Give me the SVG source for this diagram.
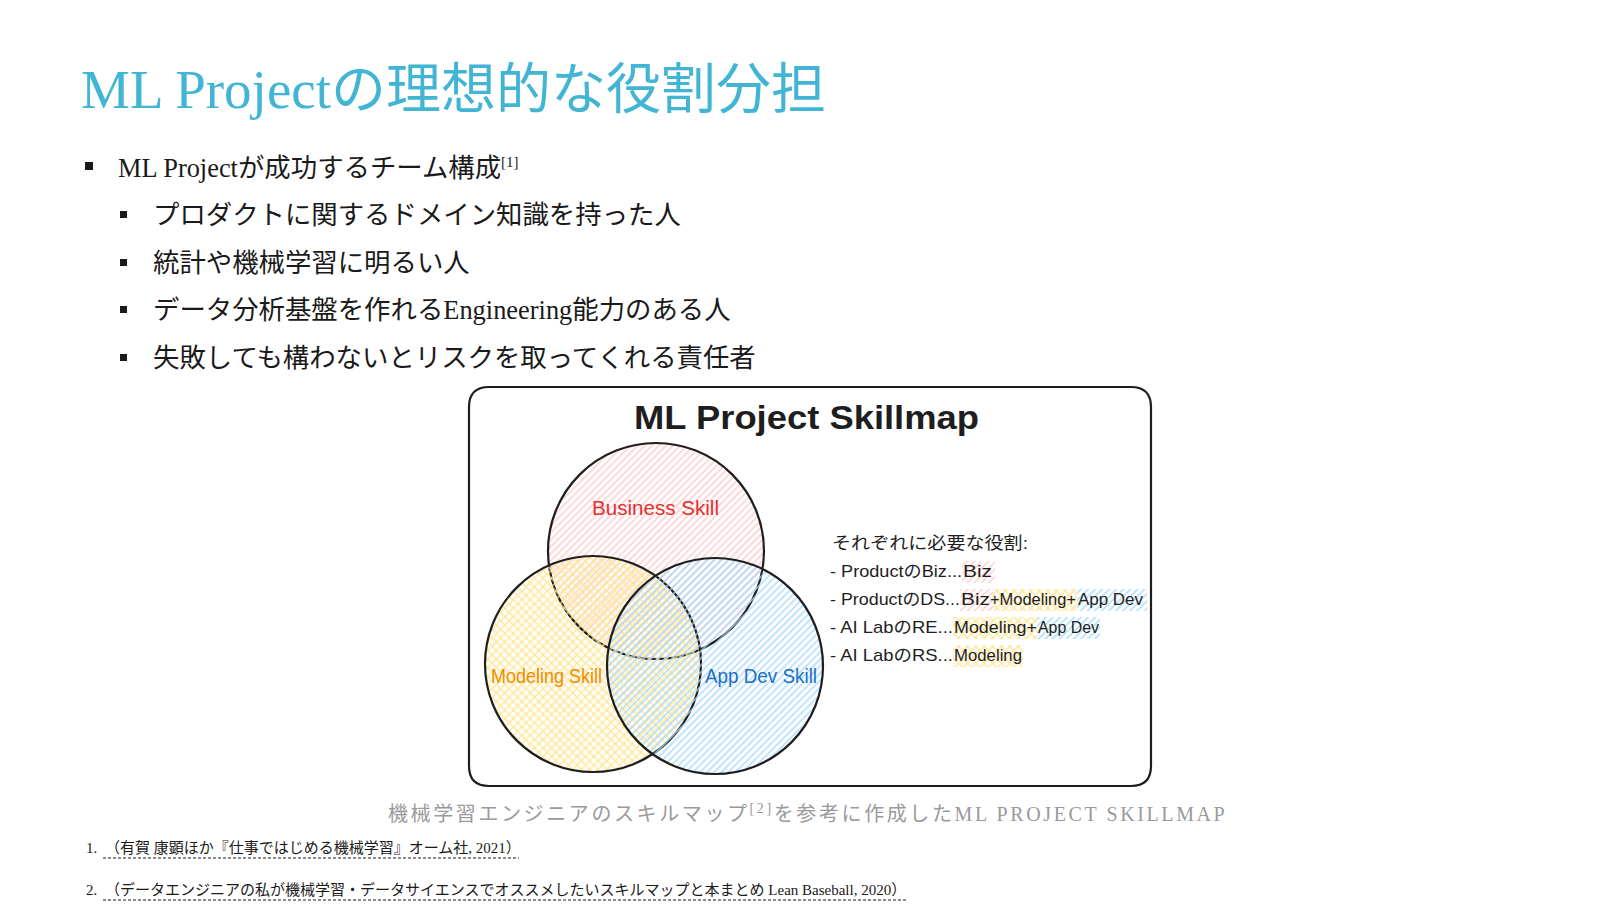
<svg xmlns="http://www.w3.org/2000/svg" width="1620" height="912" viewBox="0 0 1620 912">
<style>
.title{font-family:"Liberation Serif","Noto Sans CJK JP",serif;font-size:55px;fill:#42b4d4}
.body{font-family:"Liberation Serif","Noto Sans CJK JP",serif;font-size:26.4px;fill:#1a1a1a}
.sup{font-size:15px}
.hand{font-family:"Liberation Sans","Noto Sans CJK JP",sans-serif;fill:#1e1e1e}
.lbl{font-family:"Liberation Sans","Noto Sans CJK JP",sans-serif;font-size:20px}
.role{font-size:17px}
.cap{font-family:"Liberation Serif","Noto Sans CJK JP",serif;font-size:20px;fill:#9a9a9a;letter-spacing:2.6px}
.fn{font-family:"Liberation Serif","Noto Sans CJK JP",serif;font-size:15px;fill:#1a1a1a}
.ul{stroke:#1a1a1a;stroke-width:1;stroke-dasharray:3 2;fill:none}
.sk{stroke:#1e1e1e;stroke-width:2.2;fill:none}
</style>
<defs>
<pattern id="hR" patternUnits="userSpaceOnUse" width="5" height="10" patternTransform="rotate(45)">
<line x1="1" y1="0" x2="1" y2="10" stroke="#ffc9c9" stroke-width="1.4"/>
</pattern>
<pattern id="hY" patternUnits="userSpaceOnUse" width="6" height="6" patternTransform="rotate(45)">
<line x1="1" y1="0" x2="1" y2="6" stroke="#ffe58f" stroke-width="1.3"/>
<line x1="0" y1="1" x2="6" y2="1" stroke="#ffe58f" stroke-width="1.3"/>
</pattern>
<pattern id="hB" patternUnits="userSpaceOnUse" width="5" height="10" patternTransform="rotate(45)">
<line x1="1" y1="0" x2="1" y2="10" stroke="#a5d8ff" stroke-width="1.4"/>
</pattern>
</defs>
<rect width="1620" height="912" fill="#ffffff"/>

<g id="title">
<text class="title" x="81" y="108">ML Projectの理想的な役割分担</text>
</g>

<g id="bullets">
<rect x="85" y="162" width="8" height="8" fill="#1a1a1a"/>
<text class="body" x="118" y="177">ML Projectが成功するチーム構成<tspan class="sup" dy="-10">[1]</tspan></text>
<rect x="120" y="211" width="7" height="7" fill="#1a1a1a"/>
<text class="body" x="153" y="224">プロダクトに関するドメイン知識を持った人</text>
<rect x="120" y="259" width="7" height="7" fill="#1a1a1a"/>
<text class="body" x="153" y="272">統計や機械学習に明るい人</text>
<rect x="120" y="306" width="7" height="7" fill="#1a1a1a"/>
<text class="body" x="153" y="319">データ分析基盤を作れるEngineering能力のある人</text>
<rect x="120" y="354" width="7" height="7" fill="#1a1a1a"/>
<text class="body" x="153" y="367">失敗しても構わないとリスクを取ってくれる責任者</text>
</g>

<g id="figure-frame">
<path class="sk" d="M489 387 L1131 387 Q1151 387 1151 407 L1151 766 Q1151 786 1131 786 L489 786 Q469 786 469 766 L469 407 Q469 387 489 387 Z"/>
<text class="hand" x="634" y="429" font-size="34" font-weight="bold" textLength="345" lengthAdjust="spacingAndGlyphs">ML Project Skillmap</text>
</g>

<g id="business-skill">
<ellipse cx="656" cy="551" rx="108" ry="108" fill="url(#hR)"/>
<ellipse class="sk" cx="656" cy="551" rx="108" ry="108"/>
<text class="lbl" x="592" y="515" fill="#e03131" textLength="127" lengthAdjust="spacingAndGlyphs">Business Skill</text>
</g>

<g id="modeling-skill">
<ellipse cx="593" cy="664" rx="108" ry="108" fill="url(#hY)"/>
<ellipse class="sk" cx="593" cy="664" rx="108" ry="108"/>
<text class="lbl" x="491" y="683" fill="#f08c00" textLength="111" lengthAdjust="spacingAndGlyphs">Modeling Skill</text>
</g>

<g id="appdev-skill">
<ellipse cx="715" cy="666" rx="108" ry="108" fill="url(#hB)"/>
<ellipse class="sk" cx="715" cy="666" rx="108" ry="108"/>
<text class="lbl" x="705" y="683" fill="#1971c2" textLength="112" lengthAdjust="spacingAndGlyphs">App Dev Skill</text>
</g>

<g id="roles">
<rect x="962" y="561" width="33" height="22" fill="url(#hR)"/>
<rect x="960" y="589" width="33" height="22" fill="url(#hR)"/>
<rect x="993" y="589" width="84" height="22" fill="url(#hY)"/>
<rect x="1077" y="589" width="70" height="22" fill="url(#hB)"/>
<rect x="953" y="617" width="84" height="22" fill="url(#hY)"/>
<rect x="1037" y="617" width="63" height="22" fill="url(#hB)"/>
<rect x="953" y="645" width="70" height="22" fill="url(#hY)"/>
<text class="hand role" x="832" y="549" textLength="196" lengthAdjust="spacingAndGlyphs">それぞれに必要な役割:</text>
<text class="hand role" y="577"><tspan x="830" textLength="132" lengthAdjust="spacingAndGlyphs">- ProductのBiz...</tspan><tspan x="963" textLength="29" lengthAdjust="spacingAndGlyphs">Biz</tspan></text>
<text class="hand role" y="605"><tspan x="830" textLength="130" lengthAdjust="spacingAndGlyphs">- ProductのDS...</tspan><tspan x="961" textLength="29" lengthAdjust="spacingAndGlyphs">Biz</tspan><tspan x="990" textLength="86" lengthAdjust="spacingAndGlyphs">+Modeling+</tspan><tspan x="1078" textLength="65" lengthAdjust="spacingAndGlyphs">App Dev</tspan></text>
<text class="hand role" y="633"><tspan x="830" textLength="123" lengthAdjust="spacingAndGlyphs">- AI LabのRE...</tspan><tspan x="954" textLength="83" lengthAdjust="spacingAndGlyphs">Modeling+</tspan><tspan x="1038" textLength="61" lengthAdjust="spacingAndGlyphs">App Dev</tspan></text>
<text class="hand role" y="661"><tspan x="830" textLength="123" lengthAdjust="spacingAndGlyphs">- AI LabのRS...</tspan><tspan x="954" textLength="68" lengthAdjust="spacingAndGlyphs">Modeling</tspan></text>
</g>

<g id="caption">
<text class="cap" x="388" y="821">機械学習エンジニアのスキルマップ<tspan font-size="14" dy="-8">[2]</tspan><tspan dy="8">を参考に作成したML PROJECT SKILLMAP</tspan></text>
</g>

<g id="footnotes">
<text class="fn" x="86" y="853">1.</text>
<text class="fn" x="105" y="853">（有賀 康顕ほか『仕事ではじめる機械学習』オーム社, 2021）</text>
<line class="ul" x1="103" y1="858" x2="519" y2="858"/>
<text class="fn" x="86" y="895">2.</text>
<text class="fn" x="105" y="895">（データエンジニアの私が機械学習・データサイエンスでオススメしたいスキルマップと本まとめ Lean Baseball, 2020）</text>
<line class="ul" x1="103" y1="900" x2="907" y2="900"/>
</g>
</svg>
